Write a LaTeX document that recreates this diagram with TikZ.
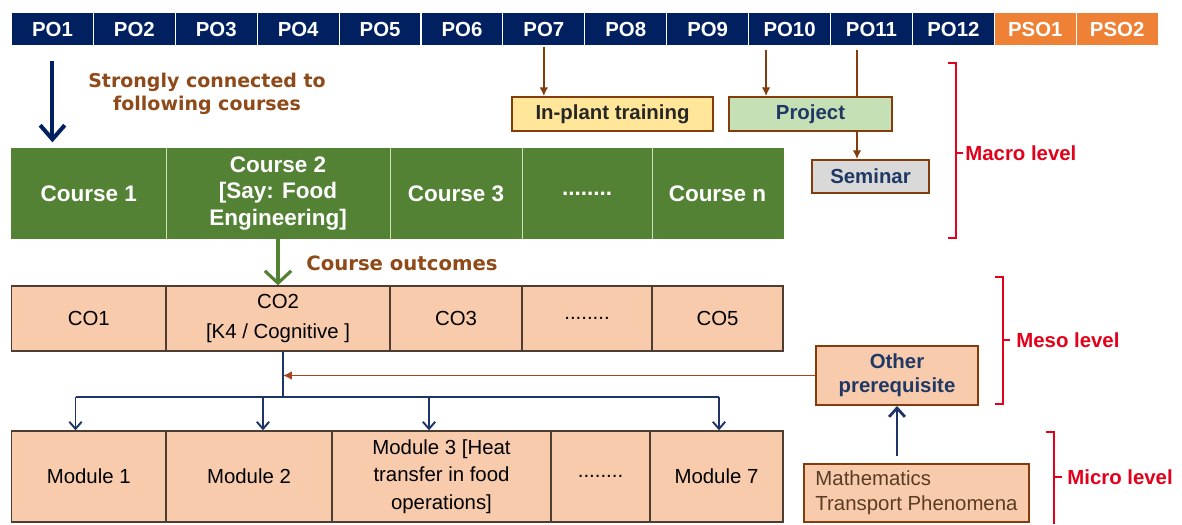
\documentclass[tikz,border=0pt]{standalone}
\usepackage{fontspec}
\setmainfont{Liberation Sans}
\newfontfamily\notefont{DejaVu Sans}
\usetikzlibrary{arrows.meta}

\definecolor{navy}{HTML}{002060}
\definecolor{psoorange}{HTML}{EE8136}
\definecolor{coursegreen}{HTML}{548235}
\definecolor{courseline}{HTML}{C9E2B8}
\definecolor{peach}{HTML}{F8CBAD}
\definecolor{cellline}{HTML}{4E3E32}
\definecolor{boxbrown}{HTML}{843C0C}
\definecolor{feedred}{HTML}{A8441C}
\definecolor{plantyellow}{HTML}{FFE699}
\definecolor{projgreen}{HTML}{C5E0B4}
\definecolor{semgray}{HTML}{D9D9D9}
\definecolor{navytext}{HTML}{1F3864}
\definecolor{darktext}{HTML}{262626}
\definecolor{mathbrown}{HTML}{5A3C24}
\definecolor{notebrown}{HTML}{8E4A18}
\definecolor{levelred}{HTML}{E3001B}
\definecolor{arrownavy}{HTML}{1F3468}

\tikzset{
    pocell/.style={fill=navy, draw=white, line width=0.6pt, minimum width=1.638cm, minimum height=0.68cm, inner sep=0pt, text=white, font=\bfseries\fontsize{11.6}{14}\selectfont},
    psocell/.style={pocell, fill=psoorange},
    course/.style={fill=coursegreen, draw=coursegreen, line width=0.8pt, minimum height=1.78cm, inner sep=0pt, align=center, text=white, font=\bfseries\fontsize{12.8}{15.3}\selectfont},
    outcome/.style={fill=peach, draw=cellline, line width=0.8pt, minimum height=1.3cm, inner sep=0pt, align=center, font=\fontsize{11.6}{17}\selectfont},
    module/.style={outcome, minimum height=1.82cm, font=\fontsize{11.6}{15.6}\selectfont},
    activity/.style={draw=boxbrown, line width=1.1pt, minimum height=0.68cm, inner sep=0pt, font=\bfseries\fontsize{11.6}{14}\selectfont},
    note/.style={text=notebrown, inner sep=0pt, align=center, font=\notefont\bfseries\fontsize{10.8}{13}\selectfont},
    level/.style={text=levelred, anchor=west, inner sep=0pt, font=\bfseries\fontsize{11.6}{14}\selectfont},
    bracket/.style={draw=levelred, line width=0.9pt},
    feed/.style={draw=boxbrown, line width=1.1pt, -{Latex[length=5pt, width=5pt]}},
    feedline/.style={draw=boxbrown, line width=1.1pt},
    bigarrow/.style={draw=navy, line width=2.3pt, -{Straight Barb[length=8pt, width=14pt]}},
    greenarrow/.style={draw=coursegreen, line width=1.8pt, -{Straight Barb[length=7pt, width=15pt]}},
    trunk/.style={draw=arrownavy, line width=1.4pt},
    split/.style={draw=arrownavy, line width=1.1pt, -{Straight Barb[length=4pt, width=7pt]}},
    riser/.style={draw=arrownavy, line width=1.6pt, -{Straight Barb[length=5pt, width=9pt]}},
}

\begin{document}
\begin{tikzpicture}[x=0.02cm, y=-0.02cm]
    \useasboundingbox [fill=white] (0,0) rectangle (1182,524);
    \foreach \i in {1,...,12}
        \node [pocell] (po\i) at ({11.5+81.9*(\i-0.5)},29) {PO\i};
    \foreach \i in {1,2}
        \node [psocell] (pso\i) at ({11.5+81.9*(\i+11.5)},29) {PSO\i};
    \node [course, minimum width=3.09cm] (course1) at (88.75,193.5) {Course 1};
    \node [course, minimum width=4.48cm] (course2) at (278,193.5) {Course 2\\{[Say: Food}\\Engineering]};
    \node [course, minimum width=2.64cm] (course3) at (456,193.5) {Course 3};
    \node [course, minimum width=2.60cm] (course4) at (587,193.5) {........};
    \node [course, minimum width=2.62cm] (course5) at (717.5,193.5) {Course n};
    \foreach \c in {1,...,4}
        \draw [courseline, line width=0.8pt] (course\c.north east) -- (course\c.south east);
    \node [outcome, minimum width=3.09cm] (co1) at (88.75,318.5) {CO1};
    \node [outcome, minimum width=4.48cm] (co2) at (278,318.5) {CO2\\{[K4 / Cognitive ]}};
    \node [outcome, minimum width=2.64cm] (co3) at (456,318.5) {CO3};
    \node [outcome, minimum width=2.60cm] (co4) at (587,318.5) {........};
    \node [outcome, minimum width=2.62cm] (co5) at (717.5,318.5) {CO5};
    \node [module, minimum width=3.09cm] (mod1) at (88.75,476.5) {Module 1};
    \node [module, minimum width=3.32cm] (mod2) at (249,476.5) {Module 2};
    \node [module, minimum width=4.38cm] (mod3) at (441.5,476.5) {Module 3 [Heat\\transfer in food\\operations]};
    \node [module, minimum width=1.98cm] (mod4) at (600.5,476.5) {........};
    \node [module, minimum width=2.66cm] (mod5) at (716.5,476.5) {Module 7};
    \node [activity, fill=plantyellow, minimum width=4.02cm, text=darktext] (plant) at (612.5,114) {In-plant training};
    \node [activity, fill=projgreen, minimum width=3.26cm, text=navytext] (project) at (810.5,114) {Project};
    \node [activity, fill=semgray, minimum width=2.34cm, minimum height=0.66cm, text=navytext] (seminar) at (870.5,176.5) {Seminar};
    \node [activity, fill=peach, minimum width=3.24cm, minimum height=1.18cm, align=center, text=navytext, font=\bfseries\fontsize{11.6}{13.6}\selectfont] (prereq) at (897,375.5) {Other\\prerequisite};
    \node [activity, fill=peach, minimum width=4.5cm, minimum height=1.16cm, align=left, text=mathbrown, font=\fontsize{11.6}{14.2}\selectfont] (maths) at (916.5,493) {Mathematics\\Transport Phenomena};
    \node [note] (strong) at (207,94) {Strongly connected to\\following courses};
    \node [note, anchor=west, font=\notefont\bfseries\fontsize{11.2}{13}\selectfont] (outcomes) at (306,263) {Course outcomes};
    \node [level] (macro) at (965,153) {Macro level};
    \node [level] (meso) at (1016,340) {Meso level};
    \node [level] (micro) at (1067,477) {Micro level};
    \draw [bracket] (948,63) -- (956,63) -- (956,238) -- (948,238) (956,153) -- (963,153);
    \draw [bracket] (995,277) -- (1003,277) -- (1003,404) -- (995,404) (1003,340) -- (1010,340);
    \draw [bracket] (1046,432) -- (1054,432) -- (1054,524) (1054,477) -- (1062,477);
    \draw [bigarrow, shorten <=0.28cm, shorten >=0.12cm] (po1.south) -- (po1.south |- course1.north);
    \draw [feed] (po7.south) -- (po7.south |- plant.north);
    \coordinate (p10) at ([xshift=-0.47cm]po10.south);
    \coordinate (p11) at ([xshift=-0.29cm]po11.south);
    \draw [feed, shorten <=0.06cm] (p10) -- (p10 |- project.north);
    \draw [feedline, shorten <=0.06cm] (p11) -- (p11 |- project.north);
    \draw [feed] (p11 |- project.south) -- (p11 |- seminar.north);
    \draw [greenarrow] (course2.south) -- (co2.north);
    \coordinate (cobase) at ([xshift=0.1cm]co2.south);
    \coordinate (hub) at (cobase |- 0,397);
    \draw [trunk] (cobase) -- (hub);
    \draw [feed, draw=feedred] (prereq.west) -- (prereq.west -| hub);
    \coordinate (m1) at ([xshift=-0.265cm]mod1.north);
    \coordinate (m2) at ([xshift=0.28cm]mod2.north);
    \coordinate (m3) at ([xshift=-0.25cm]mod3.north);
    \coordinate (m5) at ([xshift=0.05cm]mod5.north);
    \draw [trunk] (m1 |- hub) -- (m5 |- hub);
    \foreach \m in {m1,m2,m3,m5}
        \draw [split] (\m |- hub) -- (\m);
    \draw [riser, shorten <=0.14cm] (prereq.south |- maths.north) -- (prereq.south);
\end{tikzpicture}
\end{document}
